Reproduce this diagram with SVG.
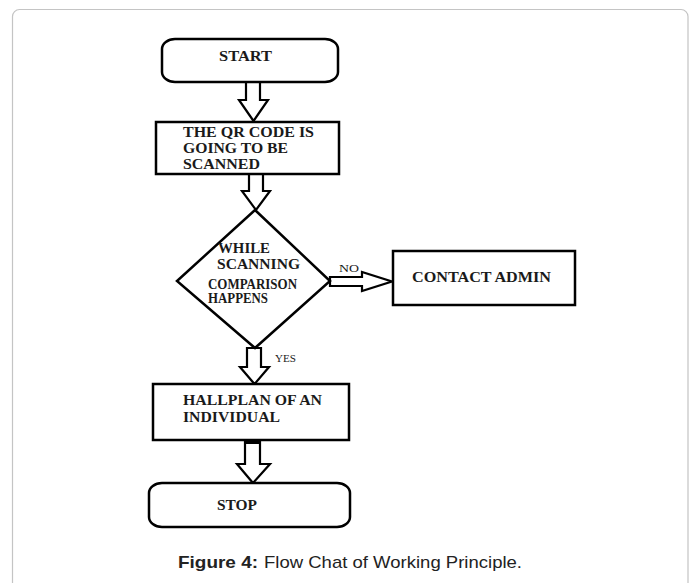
<svg xmlns="http://www.w3.org/2000/svg" width="693" height="583" viewBox="0 0 693 583">
<style>
.box{fill:#fff;stroke:#000;stroke-width:2.5}
.arr{fill:#fff;stroke:#000;stroke-width:2.2;stroke-linejoin:miter}
.t{font-family:"Liberation Serif","Times New Roman",serif;font-weight:bold;font-size:14px;fill:#1a1a1a}
.s{font-family:"Liberation Serif","Times New Roman",serif;font-size:10px;fill:#1a1a1a}
.cap{font-family:"Liberation Sans",Arial,sans-serif;font-size:17px;fill:#222}
</style>
<rect x="0" y="0" width="693" height="583" fill="#fff"/>
<rect x="12.5" y="9.5" width="675.5" height="600" rx="7" fill="#fff" stroke="#c4c4c4" stroke-width="1.2"/>
<g id="connectors">
<polygon class="arr" points="246,82 260,82 260,100 268,100 253.5,121 239,100 246,100"/>
<polygon class="arr" points="249,174 263,174 263,191 270,191 256,210 242,191 249,191"/>
<polygon class="arr" points="330,277 362,277 362,272 392,281.5 362,291 362,286 330,286"/>
<polygon class="arr" points="247,348 261,348 261,367 269,367 254.5,384 240,367 247,367"/>
<polygon class="arr" points="245,440 260,440 260,464 270,464 253,483 237,464 245,464"/>
<rect x="245" y="440" width="15" height="4" fill="#000"/>
<text class="s" x="339" y="272" textLength="20" lengthAdjust="spacingAndGlyphs">NO</text>
<text class="s" x="275" y="362" textLength="21" lengthAdjust="spacingAndGlyphs">YES</text>
</g>
<g id="start">
<rect class="box" x="162" y="39" width="176" height="43" rx="13" ry="10"/>
<text class="t" x="219" y="61" textLength="53" lengthAdjust="spacingAndGlyphs">START</text>
</g>
<g id="scan">
<rect class="box" x="156" y="122" width="183" height="52"/>
<text class="t" x="183" y="137" textLength="131" lengthAdjust="spacingAndGlyphs">THE QR CODE IS</text>
<text class="t" x="183" y="153" textLength="105" lengthAdjust="spacingAndGlyphs">GOING TO BE</text>
<text class="t" x="183" y="169" textLength="77" lengthAdjust="spacingAndGlyphs">SCANNED</text>
</g>
<g id="decision">
<polygon class="box" points="255,210 330,281 255,348 177,281"/>
<text class="t" x="218" y="253" textLength="52" lengthAdjust="spacingAndGlyphs">WHILE</text>
<text class="t" x="217" y="269" textLength="83" lengthAdjust="spacingAndGlyphs">SCANNING</text>
<text class="t" x="208" y="288.5" font-size="10" textLength="89" lengthAdjust="spacingAndGlyphs">COMPARISON</text>
<text class="t" x="208" y="302.5" font-size="10" textLength="60" lengthAdjust="spacingAndGlyphs">HAPPENS</text>
</g>
<g id="contact">
<rect class="box" x="393" y="251" width="182" height="54"/>
<text class="t" x="412" y="282" textLength="139" lengthAdjust="spacingAndGlyphs">CONTACT ADMIN</text>
</g>
<g id="hallplan">
<rect class="box" x="153" y="384" width="196" height="56"/>
<text class="t" x="183" y="405" textLength="139" lengthAdjust="spacingAndGlyphs">HALLPLAN OF AN</text>
<text class="t" x="183" y="422" textLength="97" lengthAdjust="spacingAndGlyphs">INDIVIDUAL</text>
</g>
<g id="stop">
<rect class="box" x="149" y="483" width="201" height="44" rx="13" ry="10"/>
<text class="t" x="217" y="510" textLength="40" lengthAdjust="spacingAndGlyphs">STOP</text>
</g>
<g id="caption">
<text class="cap" x="178" y="568" font-weight="bold" textLength="80" lengthAdjust="spacingAndGlyphs">Figure 4:</text>
<text class="cap" x="264" y="568" textLength="258" lengthAdjust="spacingAndGlyphs">Flow Chat of Working Principle.</text>
</g>
</svg>
